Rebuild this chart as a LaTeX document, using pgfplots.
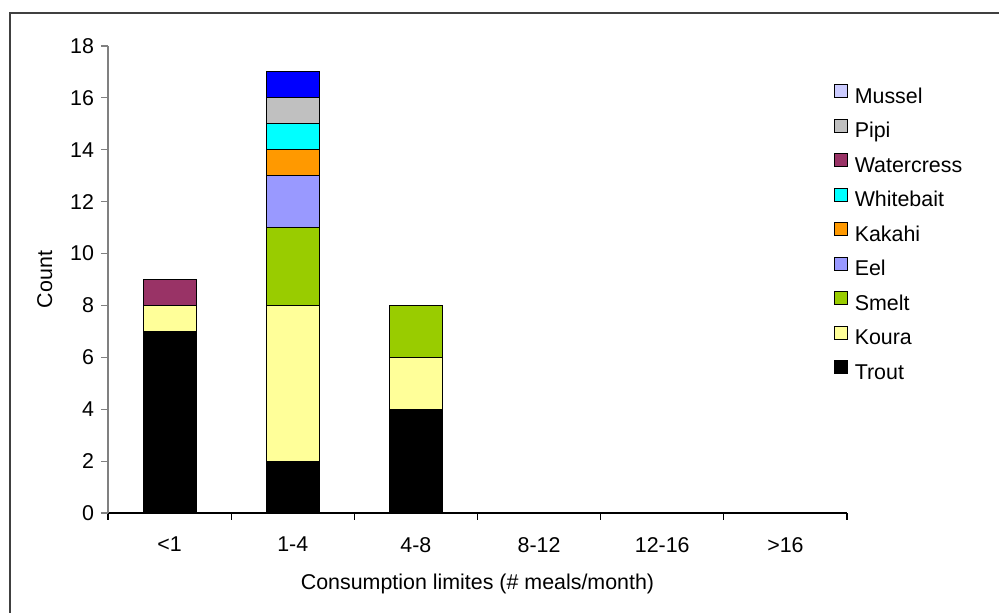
\documentclass[border=0pt]{standalone}
\usepackage{pgfplots}
\pgfplotsset{compat=1.18}
\usepackage{fontspec}
\setmainfont{Liberation Sans}

\definecolor{koura}{HTML}{FFFF99}
\definecolor{smelt}{HTML}{99CC00}
\definecolor{eel}{HTML}{9999FF}
\definecolor{kakahi}{HTML}{FF9900}
\definecolor{whitebait}{HTML}{00FFFF}
\definecolor{watercress}{HTML}{993366}
\definecolor{pipi}{HTML}{C0C0C0}
\definecolor{mussel}{HTML}{0000FF}
\definecolor{musselkey}{HTML}{CCCCFF}
\definecolor{framegray}{HTML}{404040}

\begin{document}
\begin{tikzpicture}
\useasboundingbox (-54pt,-50pt) rectangle (445.5pt,256.5pt);
% outer chart frame
\draw[framegray, line width=0.9pt] (-49pt,-80pt) -- (-49pt,250pt) -- (480pt,250pt);
\begin{axis}[
  at={(0pt,0pt)}, anchor=south west,
  scale only axis,
  width=369.5pt, height=233.5pt,
  font=\fontsize{10.7}{12.5}\selectfont,
  ybar stacked,
  bar width=26.5pt,
  xmin=-0.5, xmax=5.5,
  ymin=0, ymax=18,
  ytick={0,2,...,18},
  % ticks on the category boundaries, names at the category centres
  xtick={-0.5,0.5,...,5.5},
  xticklabels={},
  extra x ticks={0,...,5},
  extra x tick labels={<1,1-4,4-8,8-12,12-16,>16},
  extra x tick style={tick style={draw=none}},
  axis lines*=left,
  x axis line style={black, line width=0.6pt},
  y axis line style={gray, line width=0.6pt},
  tick align=outside,
  major tick length=3.5pt,
  xtick style={black, line width=0.6pt},
  ytick style={gray, line width=0.6pt},
  /pgf/number format/assume math mode=true,
  xticklabel style={yshift=-5pt},
  xlabel={Consumption limites (\# meals/month)},
  ylabel={Count},
  xlabel style={at={(axis description cs:0.5,0)}, anchor=center, yshift=-35.5pt},
  ylabel style={yshift=2pt},
  every axis plot/.append style={draw=black, line width=0.5pt},
  area legend,
  legend image code/.code={\draw[#1, draw=black, line width=0.5pt] (0pt,0pt) rectangle (6.3pt,6.3pt);},
  reverse legend,
  legend cell align=left,
  legend style={at={(0.974,0.927)}, anchor=north west, draw=none, fill=none,
    font=\fontsize{10.7}{12.5}\selectfont, row sep=4.8pt,
    nodes={inner sep=1pt, text height=7.8pt, text depth=2pt},
    /tikz/every odd column/.append style={column sep=2.5pt}},
]
\addplot[fill=black] coordinates {(0,7) (1,2) (2,4)};
\addlegendentry{Trout}
\addplot[fill=koura] coordinates {(0,1) (1,6) (2,2)};
\addlegendentry{Koura}
\addplot[fill=smelt] coordinates {(0,0) (1,3) (2,2)};
\addlegendentry{Smelt}
\addplot[fill=eel] coordinates {(0,0) (1,2) (2,0)};
\addlegendentry{Eel}
\addplot[fill=kakahi] coordinates {(0,0) (1,1) (2,0)};
\addlegendentry{Kakahi}
\addplot[fill=whitebait] coordinates {(0,0) (1,1) (2,0)};
\addlegendentry{Whitebait}
\addplot[fill=watercress] coordinates {(0,1) (1,0) (2,0)};
\addlegendentry{Watercress}
\addplot[fill=pipi] coordinates {(0,0) (1,1) (2,0)};
\addlegendentry{Pipi}
\addplot[fill=mussel,
  legend image code/.code={\draw[draw=black, fill=musselkey, line width=0.5pt] (0pt,0pt) rectangle (6.3pt,6.3pt);}]
  coordinates {(0,0) (1,1) (2,0)};
\addlegendentry{Mussel}
\end{axis}
\end{tikzpicture}
\end{document}
